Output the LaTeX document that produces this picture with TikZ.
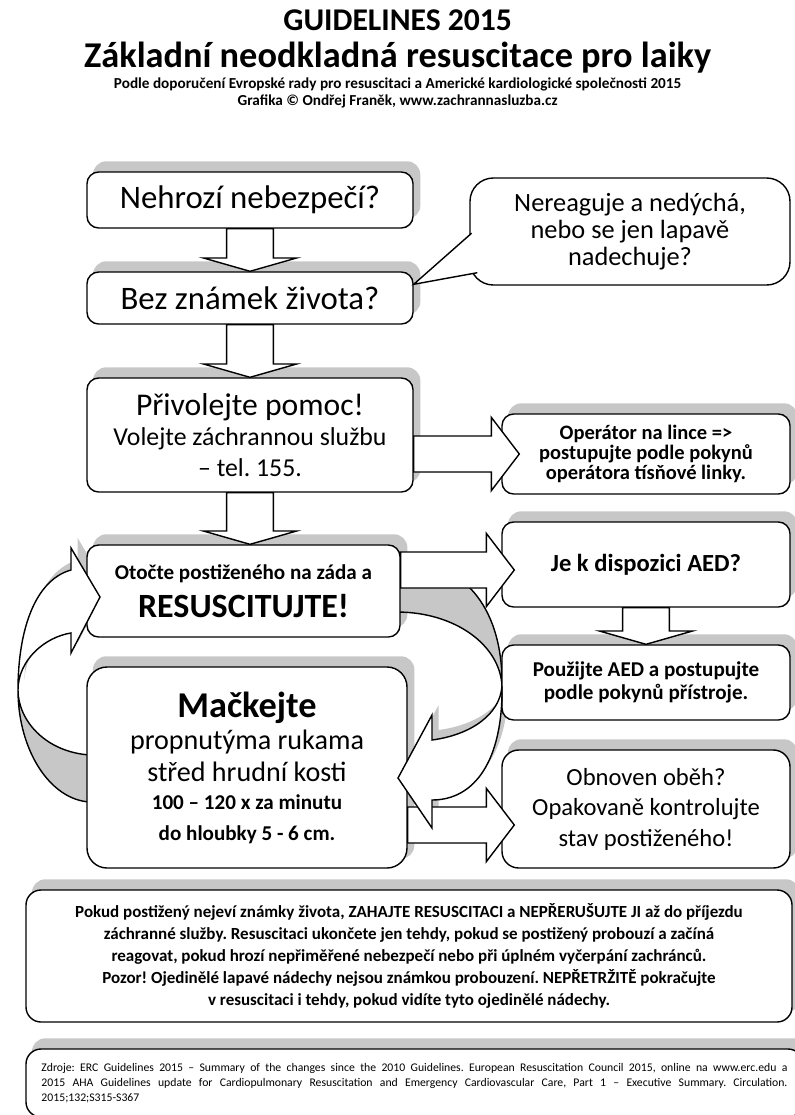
\documentclass[tikz,border=0pt]{standalone}
\usepackage{fontspec}
\setmainfont{Carlito}
\usetikzlibrary{calc}
\pgfdeclarelayer{shade}
\pgfdeclarelayer{back}
\pgfsetlayers{shade,back,main}
\frenchspacing
\newcommand{\fsz}[2]{\fontsize{#1}{#2}\selectfont}
% front faces of the two curved arrows
\newcommand{\leftloop}{(3.0,-17.91) -- (2.13,-16.44) -- (2.13,-17.1)
  .. controls (1.05,-17.4) and (0.54,-18.9) .. (0.54,-20.7)
  .. controls (0.54,-19.8) and (1.35,-19.11) .. (2.13,-18.99)
  -- (2.13,-19.59) -- cycle}
\newcommand{\rightloop}{(15.06,-20.58)
  .. controls (15.0,-21.45) and (14.1,-22.05) .. (12.96,-22.2)
  -- (12.96,-21.45) -- (11.94,-23.34) -- (12.96,-24.84) -- (12.96,-24.0)
  .. controls (14.25,-24.0) and (15.09,-22.8) .. (15.06,-20.58) -- cycle}
\begin{document}
\begin{tikzpicture}[
    every node/.style={inner sep=0pt},
    box/.style={draw, fill=white, line width=1.2pt, rounded corners=0.35cm, align=center},
    shadowc/.style={fill=black!22},
    blk/.style={draw, fill=white, line width=1.2pt},
    darrow/.style={to path={let \p1=(\tikztostart), \p2=(\tikztotarget) in
        (\x1-0.7cm,\y1) -- (\x1-0.7cm,\y2+0.4cm) -- (\x1-1.4cm,\y2+0.4cm) -- (\x1,\y2)
        -- (\x1+1.4cm,\y2+0.4cm) -- (\x1+0.7cm,\y2+0.4cm) -- (\x1+0.7cm,\y1) -- cycle}},
    rarrow/.style={to path={let \p1=(\tikztostart), \p2=(\tikztotarget) in
        (\x1,\y2+0.54cm) -- (\x2-0.84cm,\y2+0.54cm) -- (\x2-0.84cm,\y2+1.1cm) -- (\x2,\y2)
        -- (\x2-0.84cm,\y2-1.1cm) -- (\x2-0.84cm,\y2-0.54cm) -- (\x1,\y2-0.54cm) -- cycle}}
]
\useasboundingbox (0,0) rectangle (23.85,-33.45);

% Heading
\node[font=\fsz{27}{30}\bfseries] (t1) at (11.93,-0.62) {GUIDELINES 2015};
\node[font=\fsz{31}{34}\bfseries] (t2) at (11.93,-1.72) {Základní neodkladná resuscitace pro laiky};
\node[font=\fsz{13}{15}\bfseries] (t3) at (11.93,-2.52) {Podle doporučení Evropské rady pro resuscitaci a Americké kardiologické společnosti 2015};
\node[font=\fsz{13}{15}\bfseries] (t4) at (11.93,-3.03) {Grafika © Ondřej Franěk, www.zachrannasluzba.cz};

% Boxes, left column
\node[box, minimum width=9.78cm, minimum height=1.68cm, font=\fsz{28}{32}] (b1) at (7.5,-6.0) {Nehrozí nebezpečí?};
\node[box, minimum width=9.78cm, minimum height=1.56cm, font=\fsz{28}{32}] (b2) at (7.5,-8.94) {Bez známek života?};
\node[box, minimum width=9.78cm, minimum height=3.42cm, font=\fsz{22}{26}] (b3) at (7.5,-13.05)
    {{\fsz{27}{30}Přivolejte pomoc!}\\ Volejte záchrannou službu\\ – tel. 155.};
\node[box, minimum width=9.39cm, minimum height=2.76cm, font=\fsz{18}{24}\bfseries] (b5) at (7.305,-17.73)
    {Otočte postiženého na záda a\\[8.5pt] {\fsz{29}{32}RESUSCITUJTE!}};
\node[box, rounded corners=0.6cm, minimum width=9.6cm, minimum height=6.03cm, font=\fsz{24}{28}] (b8) at (7.41,-23.025)
    {{\fsz{31}{34}\bfseries Mačkejte}\\ propnutýma rukama\\[-1pt] střed hrudní kosti\\[-4.3pt]
     {\fsz{18}{20}\bfseries 100 – 120 x za minutu}\\[-1.7pt] {\fsz{18}{20}\bfseries do hloubky 5 - 6 cm.}};

% Boxes, right column
\node[box, rounded corners=0.7cm, minimum width=9.6cm, minimum height=3.21cm, font=\fsz{22.5}{23}] (call) at (18.9,-6.945)
    {Nereaguje a nedýchá,\\ nebo se jen lapavě\\ nadechuje?};
\node[box, minimum width=8.64cm, minimum height=2.4cm, font=\fsz{17.5}{17}\bfseries] (b4) at (19.38,-13.62)
    {Operátor na lince =>\\ postupujte podle pokynů\\ operátora tísňové linky.};
\node[box, minimum width=8.64cm, minimum height=2.55cm, font=\fsz{21}{24}\bfseries] (b6) at (19.38,-16.935) {Je k dispozici AED?};
\node[box, minimum width=8.64cm, minimum height=2.25cm, font=\fsz{18}{19}\bfseries] (b7) at (19.38,-20.475)
    {Použijte AED a postupujte\\ podle pokynů přístroje.};
\node[box, rounded corners=0.5cm, minimum width=8.64cm, minimum height=3.54cm, font=\fsz{21}{26}] (b9) at (19.38,-24.27)
    {Obnoven oběh?\\ Opakovaně kontrolujte\\ stav postiženého!};

% Boxes, bottom
\node[box, rounded corners=0.45cm, minimum width=22.98cm, minimum height=3.96cm, font=\fsz{14.5}{18.8}\bfseries] (info) at (12.27,-28.68)
    {Pokud postižený nejeví známky života, ZAHAJTE RESUSCITACI a NEPŘERUŠUJTE JI až do příjezdu\\
     záchranné služby. Resuscitaci ukončete jen tehdy, pokud se postižený probouzí a začíná\\
     reagovat, pokud hrozí nepřiměřené nebezpečí nebo při úplném vyčerpání zachránců.\\
     Pozor! Ojedinělé lapavé nádechy nejsou známkou probouzení. NEPŘETRŽITĚ pokračujte\\
     v resuscitaci i tehdy, pokud vidíte tyto ojedinělé nádechy.};
\node[box, rounded corners=0.45cm, minimum width=23.31cm, minimum height=2.04cm, align=left, font=\fsz{10}{12.8}] (src) at (12.435,-32.49)
    {\makebox[22.38cm][s]{Zdroje: ERC Guidelines 2015 – Summary of the changes since the 2010 Guidelines. European Resuscitation Council 2015, online na www.erc.edu a}\\
     \makebox[22.38cm][s]{2015 AHA Guidelines update for Cardiopulmonary Resuscitation and Emergency Cardiovascular Care, Part 1 – Executive Summary. Circulation.}\\
     \makebox[22.38cm][l]{2015;132;S315-S367}};

% Callout tail
\draw[line width=1.2pt, fill=white] ([xshift=2pt,yshift=-0.05cm]call.west) -- ([yshift=-0.39cm]b2.north east)
    -- ([xshift=0.24cm,yshift=0.39cm]call.south west);

% Shadows
\begin{pgfonlayer}{shade}
\foreach \n in {b1,b2,b3,b4,b5,b6,b7,b8,b9,info,src}
    \fill[shadowc, rounded corners=0.4cm] ([shift={(0.2,0.3)}]\n.south west) rectangle ([shift={(0.2,0.3)}]\n.north east);
\fill[shadowc, shift={(0.2,0.3)}] (b1.south) to[darrow] (b2.north);
\fill[shadowc, shift={(0.2,0.3)}] (b2.south) to[darrow] (b3.north);
\fill[shadowc, shift={(0.2,0.3)}] (b3.south) to[darrow] (b5.north);
\fill[shadowc, shift={(0.2,0.3)}] (b6.south) to[darrow] (b7.north);
\fill[shadowc, shift={(0.2,0.3)}] (b3.east) to[rarrow] ([xshift=0.54cm]b4.west);
\fill[shadowc, shift={(0.2,0.3)}] (b5.east) to[rarrow] ([xshift=0.39cm,yshift=-0.165cm]b6.west);
\fill[shadowc, shift={(0.2,0.3)}] (b8.east) to[rarrow] ([xshift=0.39cm,yshift=-0.48cm]b9.west);
\fill[shadowc, shift={(0.2,0.3)}] \leftloop;
\fill[shadowc, shift={(0.2,0.3)}] \rightloop;
\end{pgfonlayer}

% Back faces of the curved arrows
\begin{pgfonlayer}{back}
\draw[shadowc, line width=1.2pt] (0.54,-20.7) .. controls (0.54,-22.5) and (1.5,-24.0) .. (2.7,-24.06)
    -- (2.7,-22.65) .. controls (1.35,-22.56) and (0.54,-21.6) .. (0.54,-20.7) -- cycle;
\draw[shadowc, line width=1.2pt] (11.9,-16.8) .. controls (14.1,-16.8) and (15.09,-18.45) .. (15.06,-20.58)
    .. controls (15.0,-19.35) and (13.65,-18.36) .. (11.9,-18.36) -- cycle;
\end{pgfonlayer}

% Arrows
\draw[blk] (b1.south) to[darrow] (b2.north);
\draw[blk] (b2.south) to[darrow] (b3.north);
\draw[blk] (b3.south) to[darrow] (b5.north);
\draw[blk] (b6.south) to[darrow] (b7.north);
\draw[blk] (b3.east) to[rarrow] ([xshift=0.54cm]b4.west);
\draw[blk] (b5.east) to[rarrow] ([xshift=0.39cm,yshift=-0.165cm]b6.west);
\draw[blk] (b8.east) to[rarrow] ([xshift=0.39cm,yshift=-0.48cm]b9.west);
\draw[blk] \leftloop;
\draw[blk] \rightloop;
\end{tikzpicture}
\end{document}
